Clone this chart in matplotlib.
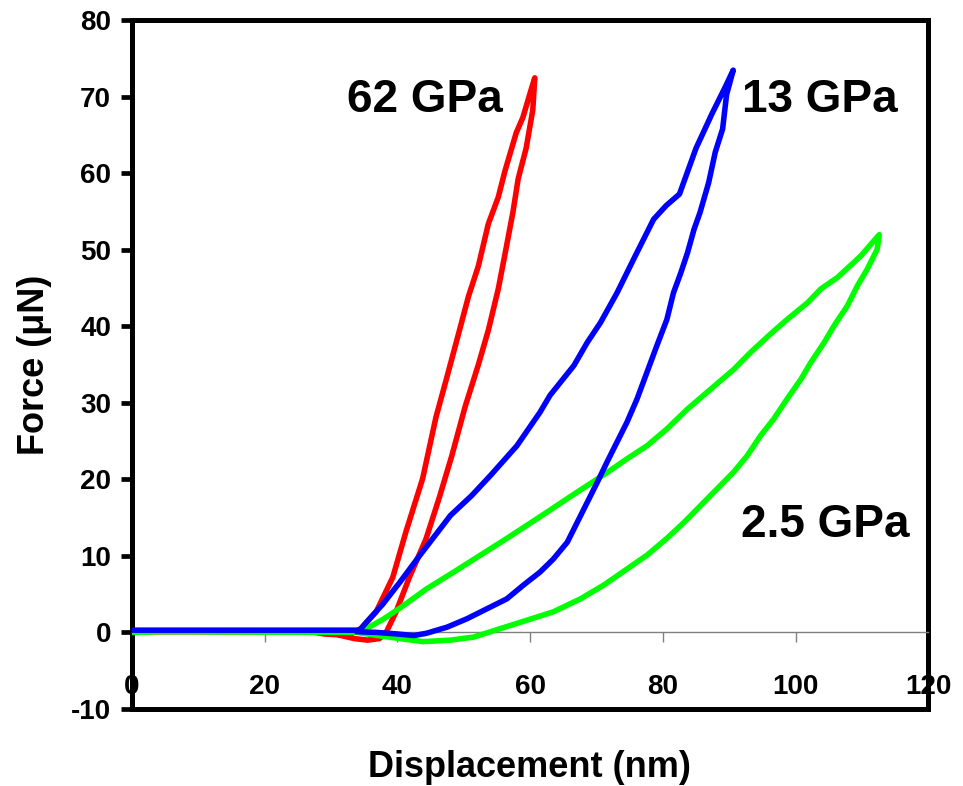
import matplotlib
matplotlib.use("Agg")
import matplotlib.pyplot as plt

plt.rcParams['font.family'] = ['Liberation Sans', 'DejaVu Sans']
plt.rcParams['font.weight'] = 'bold'
plt.rcParams['axes.unicode_minus'] = False

# ---- data (displacement nm, force uN) ----
red_x = [0, 27, 29, 31, 33.4, 34.5, 36.8, 39.3, 41.3, 43.8, 45.8, 47.5, 49.2, 50.7, 52.2, 53.7, 55.2,
         56.2, 57.9, 58.9, 60.1, 60.7,
         60.4, 59.4, 58.2, 57.4, 56.2, 55.2, 53.7, 52.2, 50.2, 48.2, 46.3, 44.3, 41.8, 39.8, 38.3,
         37.3, 35.5, 33.5, 31.5]
red_y = [0.1, 0.1, -0.2, -0.3, 0.0, 0.5, 2.7, 7.2, 13.2, 20.1, 28.1, 33.5, 39.0, 43.9, 47.9, 53.4, 56.9,
         60.3, 65.3, 67.3, 70.8, 72.5,
         68.3, 63.3, 59.3, 54.9, 49.4, 44.9, 39.5, 35.0, 29.5, 23.1, 17.6, 12.2, 7.2, 2.7, 0.0,
         -0.8, -1.0, -0.8, -0.4]

blue_x = [0, 33, 34.3, 35.5, 37.8, 40.4, 43.4, 46.5, 48.0, 51.2, 54.0, 58.0, 61.5, 63.0, 66.6, 68.6,
          70.6, 73.1, 75.6, 78.6, 80.5, 82.5, 85.0, 87.4, 89.4, 90.6,
          89.6, 89.0, 87.9, 86.9, 85.6, 84.7, 83.7, 82.7, 81.6, 80.6, 79.1, 77.6, 76.1, 74.6, 73.1,
          71.6, 70.1, 68.6, 67.1, 65.6, 63.5, 61.5, 59.0, 56.5, 53.5, 50.5, 47.5, 44.4, 42.5, 40.0,
          37.0, 34.0]
blue_y = [0.3, 0.3, 0.3, 1.5, 3.7, 6.6, 10.1, 13.6, 15.3, 17.9, 20.5, 24.4, 28.8, 31.0, 34.9, 37.9,
          40.5, 44.4, 48.8, 54.0, 55.8, 57.3, 63.3, 67.8, 71.3, 73.5,
          70.3, 65.8, 62.8, 58.8, 54.9, 52.7, 49.6, 47.0, 44.4, 40.9, 37.5, 34.0, 30.5, 27.5, 24.9,
          22.3, 19.6, 17.0, 14.4, 11.8, 9.6, 7.9, 6.2, 4.4, 3.1, 1.8, 0.7, -0.1, -0.4, -0.2,
          0.0, 0.1]

green_x = [0, 4.5, 33, 34.8, 37.8, 40.4, 44.4, 48.5, 52.5, 56.5, 59.5, 62.5, 65.6, 68.6, 71.6, 74.6,
           77.6, 80.6, 83.7, 87.2, 90.7, 93.2, 96.2, 98.7, 101.8, 103.8, 106.3, 109.8, 112.6,
           112.3, 110.8, 109.3, 107.8, 105.8, 104.3, 102.3, 100.8, 98.7, 96.7, 94.7, 92.7, 90.7,
           88.2, 85.7, 83.2, 80.6, 77.6, 74.6, 71.1, 67.6, 63.5, 59.5, 55.5, 51.5, 48.0, 43.9,
           40.4, 37.0, 34.0]
green_y = [0.0, 0.1, 0.0, 0.25, 1.7, 3.2, 5.7, 7.9, 10.1, 12.3, 14.0, 15.7, 17.5, 19.2, 20.9, 22.7,
           24.4, 26.6, 29.2, 31.8, 34.4, 36.6, 39.0, 40.9, 43.1, 44.9, 46.4, 49.2, 52.0,
           50.1, 47.5, 45.3, 42.7, 40.1, 37.9, 35.3, 33.1, 30.5, 27.9, 25.7, 23.1, 21.0,
           18.8, 16.6, 14.4, 12.3, 10.1, 8.3, 6.2, 4.4, 2.7, 1.6, 0.5, -0.6, -1.0, -1.2,
           -0.8, -0.4, 0.0]

labels = ["62 GPa", "13 GPa", "2.5 GPa"]
label_pos = [(44.2, 69.6), (103.6, 69.6), (104.5, 14.0)]

x_ticks = [0, 20, 40, 60, 80, 100, 120]
y_ticks = [-10, 0, 10, 20, 30, 40, 50, 60, 70, 80]

fig = plt.figure(figsize=(9.63, 7.86), dpi=100)
ax = fig.add_axes([0.137, 0.098, 0.827, 0.876])

lw = 4.0
ax.plot(red_x, red_y, color='#FF0000', lw=lw, solid_joinstyle='round', zorder=3)
ax.plot(green_x, green_y, color='#00FF00', lw=lw, solid_joinstyle='round', zorder=3)
ax.plot(blue_x, blue_y, color='#0000FF', lw=lw, solid_joinstyle='round', zorder=3)

for t, (x, y) in zip(labels, label_pos):
    ax.text(x, y, t, fontsize=33, fontweight='bold', ha='center', va='center')

ax.set_xlim(0, 120)
ax.set_ylim(-10, 80)
ax.set_xticks(x_ticks)
ax.set_yticks(y_ticks)

for s in ['left', 'top', 'right']:
    ax.spines[s].set_linewidth(3.6)
    ax.spines[s].set_color('black')
ax.spines['bottom'].set_position(('data', 0))
ax.spines['bottom'].set_color('#808080')
ax.spines['bottom'].set_linewidth(1.0)
ax.axhline(-10, color='black', lw=3.6, clip_on=False, zorder=2.6)

ax.tick_params(axis='y', direction='out', length=8, width=3.4, color='black',
               labelsize=20, pad=7)
ax.tick_params(axis='x', direction='out', length=7, width=1.0, color='#808080',
               labelsize=20, pad=23)
for lab in ax.get_xticklabels() + ax.get_yticklabels():
    lab.set_fontweight('bold')

fig.text(0.55, 0.024, "Displacement (nm)", fontsize=26, fontweight='bold', ha='center', va='center')
fig.text(0.036, 0.536, "Force (μN)", fontsize=26, fontweight='bold', ha='center', va='center',
         rotation=90)

fig.savefig("out.png", dpi=100)
